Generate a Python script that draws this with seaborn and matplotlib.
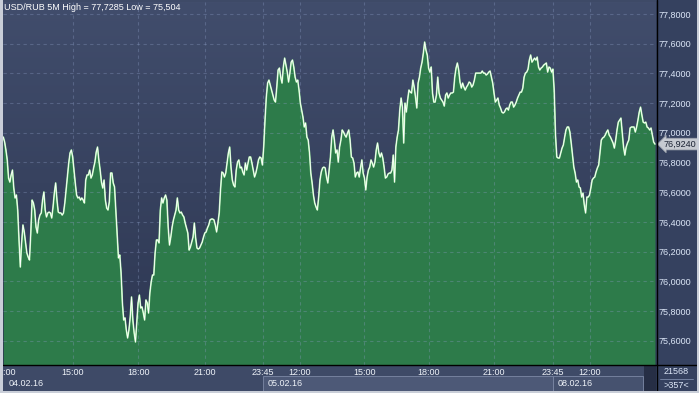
import numpy as np
import pandas as pd
import matplotlib
matplotlib.use("Agg")
import matplotlib.pyplot as plt
from matplotlib.patches import Rectangle
from matplotlib.lines import Line2D
from matplotlib.colors import LinearSegmentedColormap
from matplotlib.transforms import blended_transform_factory
import seaborn as sns

sns.set_style("dark")
plt.rcParams['font.family'] = ['Liberation Sans', 'DejaVu Sans']

title_text = "USD/RUB 5M High = 77,7285 Low = 75,504"

# 5-minute closes (session segments)
seg_a = [76.971, 76.938, 76.884, 76.817, 76.695, 76.668, 76.716, 76.749, 76.628, 76.561,
         76.581, 76.480, 76.278, 76.096, 76.258, 76.379, 76.332, 76.258, 76.190, 76.163,
         76.143, 76.325, 76.547, 76.527, 76.480, 76.365, 76.325, 76.413, 76.446, 76.460,
         76.547, 76.601, 76.480, 76.433, 76.460, 76.466, 76.460, 76.426, 76.500, 76.594,
         76.662, 76.547, 76.466, 76.460, 76.460, 76.446, 76.460, 76.527, 76.615, 76.702,
         76.796, 76.864, 76.884, 76.837, 76.749, 76.662, 76.581, 76.561, 76.567, 76.547,
         76.561, 76.547, 76.527, 76.682, 76.716, 76.716, 76.749, 76.695, 76.716, 76.763,
         76.803, 76.870, 76.904, 76.817, 76.749, 76.668, 76.628, 76.682, 76.547, 76.493,
         76.480, 76.534, 76.729, 76.729, 76.662, 76.635]
seg_b = [76.480, 76.325, 76.157, 76.177, 76.056, 75.854, 75.739, 75.753, 75.672, 75.618,
         75.672, 75.759, 75.894, 75.739, 75.652, 75.591, 75.719, 75.854, 75.907, 75.820,
         75.827, 75.786, 75.739, 75.874, 75.854, 75.786, 75.921, 75.995, 76.042, 76.042,
         76.190, 76.278, 76.278, 76.258, 76.480, 76.561, 76.527, 76.561, 76.581, 76.547,
         76.365, 76.244, 76.298, 76.365, 76.413, 76.446, 76.480, 76.561, 76.480, 76.460,
         76.466, 76.446, 76.433, 76.392, 76.359, 76.325, 76.210, 76.231, 76.264, 76.298,
         76.392, 76.291, 76.224, 76.217, 76.224, 76.244, 76.264, 76.298, 76.325, 76.332,
         76.359, 76.379, 76.413, 76.419, 76.419, 76.413, 76.379, 76.332, 76.392, 76.460]
seg_c = [76.615, 76.736, 76.729, 76.702, 76.729, 76.796, 76.864, 76.904, 76.769, 76.682,
         76.648, 76.635, 76.749, 76.803, 76.817, 76.763, 76.769, 76.736, 76.716, 76.796,
         76.749, 76.796, 76.837, 76.837, 76.796, 76.749, 76.702, 76.729, 76.769, 76.817,
         76.837, 76.830, 76.783, 76.904, 77.086, 77.241, 77.335, 77.355, 77.322, 77.288,
         77.254, 77.221, 77.207, 77.308, 77.423, 77.436, 77.375, 77.335, 77.443, 77.503,
         77.456, 77.409, 77.342, 77.402, 77.476, 77.490, 77.443, 77.375, 77.342, 77.355,
         77.288, 77.200, 77.153, 77.106, 77.039, 77.066, 76.971, 76.951, 76.864, 76.729,
         76.662, 76.581, 76.527, 76.500, 76.480, 76.567, 76.682, 76.736, 76.763, 76.769]
seg_d = [76.763, 76.702, 76.662, 76.749, 76.837, 76.971, 77.019, 76.951, 76.864, 76.884,
         76.803, 76.904, 76.951, 77.019, 77.005, 76.985, 76.971, 76.998, 77.019, 76.951,
         76.837, 76.830, 76.796, 76.702, 76.729, 76.736, 76.702, 76.763, 76.817, 76.729,
         76.695, 76.615, 76.702, 76.749, 76.769, 76.817, 76.796, 76.769, 76.803, 76.884,
         76.931, 76.864, 76.837, 76.864, 76.830, 76.769, 76.695, 76.702, 76.722, 76.729,
         76.729, 76.749, 76.850, 76.668, 76.904, 76.971, 77.019, 77.153, 77.234, 77.173,
         76.931, 77.200, 77.140, 77.221, 77.288, 77.274, 77.268, 77.355, 77.308, 77.241,
         77.167, 77.335, 77.375, 77.436, 77.476, 77.537, 77.611, 77.557, 77.524]
seg_e = [77.436, 77.409, 77.443, 77.268, 77.207, 77.207, 77.254, 77.375, 77.268, 77.234,
         77.221, 77.207, 77.180, 77.254, 77.268, 77.234, 77.254, 77.268, 77.268, 77.274,
         77.375, 77.436, 77.470, 77.423, 77.342, 77.301, 77.335, 77.308, 77.288, 77.308,
         77.322, 77.342, 77.335, 77.308, 77.322, 77.355, 77.402, 77.402, 77.402, 77.402,
         77.402, 77.416, 77.402, 77.402, 77.389, 77.396, 77.409, 77.416, 77.375, 77.335,
         77.268, 77.207, 77.221, 77.234, 77.187, 77.167, 77.140, 77.133, 77.140, 77.160,
         77.167, 77.153, 77.187, 77.207, 77.207, 77.173, 77.187, 77.207, 77.234, 77.254,
         77.274, 77.274, 77.301, 77.375, 77.402, 77.409, 77.429, 77.490, 77.524, 77.476,
         77.490, 77.503, 77.490, 77.510, 77.443]
seg_f = [77.423, 77.436, 77.443, 77.456, 77.463, 77.470, 77.409, 77.443, 77.436, 77.409,
         77.429, 77.288, 76.985, 76.837, 76.830, 76.830, 76.864, 76.897, 76.918, 76.971,
         77.019, 77.039, 77.039, 77.005, 76.931, 76.850, 76.769, 76.729, 76.668, 76.682,
         76.635, 76.628, 76.567, 76.594, 76.514, 76.460, 76.567, 76.567, 76.581, 76.628,
         76.682, 76.695, 76.702, 76.736, 76.763, 76.783, 76.864, 76.951, 76.965, 76.971,
         76.985, 77.005, 77.019, 76.985, 76.971, 76.951, 76.931, 76.897, 76.951, 77.019,
         77.072, 77.086, 77.099, 76.998, 76.904, 76.850, 76.904, 76.931, 76.951, 77.032,
         77.039, 77.039, 77.039, 77.005, 77.039, 77.086, 77.140, 77.173, 77.120, 77.072,
         77.066, 77.072, 77.039, 77.032, 77.019, 77.032, 76.985, 76.938, 76.924]

prices = seg_a + seg_b + seg_c + seg_d + seg_e + seg_f
bars = np.arange(len(prices))
df = pd.DataFrame({"bar": bars, "price": prices})

time_tick_pos = [0.6, 53.1, 103.2, 153.9, 198.3, 226.4, 275.8, 325.2, 374.7, 419.8, 448.2]
time_tick_labels = ["12:00", "15:00", "18:00", "21:00", "23:45", "12:00",
                    "15:00", "18:00", "21:00", "23:45", "12:00"]
day_labels = ["04.02.16", "05.02.16", "08.02.16"]
day_start = [-0.24, 198.3, 419.8]
price_ticks = [75.6, 75.8, 76.0, 76.2, 76.4, 76.6, 76.8, 77.0, 77.2, 77.4, 77.6, 77.8]
counter_top = "21568"
counter_bottom = ">357<"

W, H = 699, 393
fig = plt.figure(figsize=(W / 100, H / 100), dpi=100)
fig.patch.set_facecolor('#3e4a67')

def fx(p):
    return p / W

def fy(p):
    return 1 - p / H

ax = fig.add_axes([fx(3), fy(365), fx(653), 363 / H])
x0, x1 = -0.24, len(prices) - 1 + 0.8
y0, y1 = 75.436, 77.881
ax.set_xlim(x0, x1)
ax.set_ylim(y0, y1)

cmap = LinearSegmentedColormap.from_list('bg', ['#414d6c', '#2d3752'])
ax.imshow(np.linspace(0, 1, 256).reshape(-1, 1), cmap=cmap, aspect='auto',
          extent=[x0, x1, y0, y1], origin='upper', zorder=0)

ax.fill_between(df["bar"], df["price"], y0, color='#2d7b4a', lw=0, zorder=1)

gkw = dict(color='#8a9bc2', alpha=0.35, lw=0.8, linestyles=(0, (3, 3)), zorder=2)
ax.hlines(price_ticks, x0, x1, **gkw)
ax.vlines(time_tick_pos[1:], y0, y1, **gkw)

sns.lineplot(data=df, x="bar", y="price", ax=ax, color='#9fea9f', lw=1.2,
             estimator=None, zorder=3)
sns.lineplot(data=df, x="bar", y="price", ax=ax, color='white', lw=0.6,
             estimator=None, zorder=4)

ax.set_xlabel("")
ax.set_ylabel("")
ax.yaxis.tick_right()
ax.set_yticks(price_ticks)
ax.set_yticklabels([f"{v:.4f}".replace('.', ',') for v in price_ticks])
ax.set_xticks(time_tick_pos)
ax.set_xticklabels(time_tick_labels)
ax.tick_params(axis='y', length=0, pad=2, labelsize=6.5, labelcolor='#dce6f7')
ax.tick_params(axis='x', length=0, pad=2, labelsize=6.5, labelcolor='#eef2f8')
for s in ax.spines.values():
    s.set_visible(False)
ax.grid(False)

last = prices[-1]
ax.annotate(f"{last:.4f}".replace('.', ','), xy=(1.0, last),
            xycoords=('axes fraction', 'data'), xytext=(5.5, 0),
            textcoords='offset points', ha='left', va='center', fontsize=6.5,
            color='#1b2233', zorder=20, annotation_clip=False,
            bbox=dict(boxstyle='larrow,pad=0.15', fc='#c6cad1', ec='#9aa0aa', lw=0.5))

# right panel and bottom panel backgrounds
fig.patches.append(Rectangle((fx(656), fy(391)), fx(41), 391 / H, transform=fig.transFigure,
                             fc='#35415f', ec='none', zorder=-1))
bt = blended_transform_factory(ax.transData, fig.transFigure)
ax.add_patch(Rectangle((day_start[1], fy(391)), day_start[2] - day_start[1], 15 / H,
                       transform=bt, fc='#4d5977', ec='#7c88a5', lw=0.6, clip_on=False, zorder=-1))
ax.add_patch(Rectangle((day_start[2], fy(391)), (643 - 553) / 1.30, 15 / H,
                       transform=bt, fc='#46526f', ec='#7c88a5', lw=0.6, clip_on=False, zorder=-1))
fig.patches.append(Rectangle((fx(644), fy(391)), fx(12), 26 / H, transform=fig.transFigure,
                             fc='#262e45', ec='none', zorder=5))

for lbl, st in zip(day_labels, day_start):
    fig.text(st + 4, fy(384), lbl, transform=bt,
             fontsize=6.5, color='#eef2f8', ha='left', va='center')

fig.text(fx(676), fy(372), counter_top, fontsize=6.5, color='#dce6f7', ha='center', va='center')
fig.text(fx(676), fy(385.5), counter_bottom, fontsize=6.5, color='#dce6f7', ha='center', va='center')
fig.lines.append(Line2D([fx(660), fx(693)], [fy(378.5), fy(378.5)], transform=fig.transFigure,
                        color='#7d8cab', lw=0.6, zorder=6))

fig.text(fx(4), fy(8), title_text, fontsize=6.5, color='white', ha='left', va='center')

# separators and outer frame
fig.lines.append(Line2D([fx(656.5), fx(656.5)], [fy(0), fy(391)], transform=fig.transFigure,
                        color='black', lw=1.0, zorder=7))
fig.lines.append(Line2D([fx(3), fx(697)], [fy(365), fy(365)], transform=fig.transFigure,
                        color='black', lw=1.0, zorder=7))
frame_kw = dict(transform=fig.transFigure, fc='#c9ced8', ec='none', zorder=10)
fig.patches.append(Rectangle((0, 0), fx(2.5), 1, **frame_kw))
fig.patches.append(Rectangle((fx(697), 0), fx(2), 1, **frame_kw))
fig.patches.append(Rectangle((0, 0), 1, 2 / H, **frame_kw))

fig.savefig("out.png", dpi=100)
